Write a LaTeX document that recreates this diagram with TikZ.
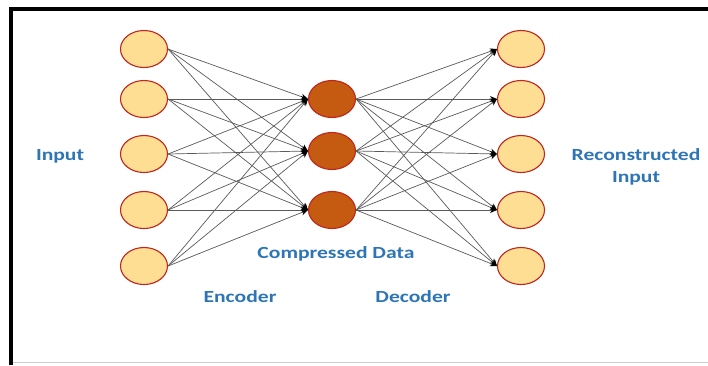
\documentclass[tikz,border=0pt]{standalone}
\usepackage{fontspec}
\setmainfont{Carlito}
\usetikzlibrary{shapes.geometric,arrows.meta}
\definecolor{lightfill}{HTML}{FDDE93}
\definecolor{darkfill}{HTML}{C55A11}
\definecolor{nodeedge}{HTML}{C0261E}
\definecolor{labelblue}{HTML}{2E75B6}
\definecolor{edgegray}{HTML}{5A5A5A}
\tikzset{
  neuron/.style={ellipse, minimum width=47pt, minimum height=37pt, inner sep=0pt, draw=nodeedge, line width=1.1pt},
  inneuron/.style={neuron, fill=lightfill},
  hidneuron/.style={neuron, fill=darkfill},
  link/.style={draw=edgegray, line width=0.7pt, -{Stealth[length=7pt,width=6pt,color=black]}},
  lbl/.style={font=\fontsize{17}{20}\selectfont\bfseries, text=labelblue, xscale=1.27, inner sep=0pt},
}
\begin{document}
\begin{tikzpicture}[x=1pt,y=-1pt]
\useasboundingbox (0,0) rectangle (708,365);
\fill[white] (0,0) rectangle (708,365);
% frame
\draw[black!20, line width=1.2pt] (9,362.5) -- (708,362.5);
\draw[black, line width=4pt] (11,365) -- (11,9) -- (708,9);
% nodes
\foreach \i/\y in {1/49,2/99,3/154,4/210,5/266}{
  \node[inneuron] (in\i) at (144,\y) {};
  \node[inneuron] (out\i) at (521,\y) {};
}
\foreach \j/\y in {1/99,2/151,3/210}{
  \node[hidneuron] (h\j) at (332,\y) {};
}
% links
\foreach \i in {1,...,5}{
  \foreach \j in {1,2,3}{
    \draw[link] (in\i.east) -- (h\j.west);
    \draw[link] (h\j.east) -- (out\i.west);
  }
}
% labels
\node[lbl] (linput) at (60,156) {Input};
\node[lbl] (lcomp) at (336,254) {Compressed Data};
\node[lbl] (lenc) at (240,297) {Encoder};
\node[lbl] (ldec) at (413,297) {Decoder};
\node[lbl] (lrec) at (636,155) {Reconstructed};
\node[lbl] (lrec2) at (636,178) {Input};
\end{tikzpicture}
\end{document}
